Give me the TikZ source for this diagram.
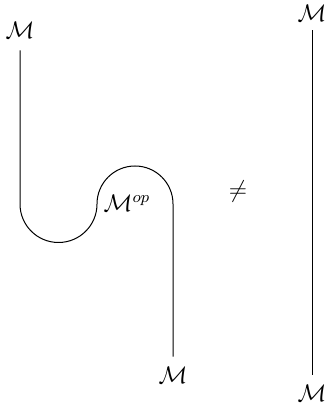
\documentclass[tikz,border=0pt]{standalone}
\begin{document}
\begin{tikzpicture}[x=0.5pt, y=0.5pt, line width=0.5pt, every node/.style={font=\large}]
    \useasboundingbox (0,0) rectangle (325,406);

    % Nhãn các đầu mút
    \node (ml) at (20,376) {$\mathcal{M}$};
    \node (mb) at (173,31) {$\mathcal{M}$};
    \node (mtr) at (312,393) {$\mathcal{M}$};
    \node (mbr) at (312,13) {$\mathcal{M}$};

    % Đường cong chữ S
    \draw[shorten <=2.5pt, shorten >=1.5pt] (ml.south) -- (20,202)
        arc[start angle=180, end angle=360, radius=38.5]
        arc[start angle=180, end angle=0, radius=38] -- (mb.north);
    \node (mop) at (127,203) {$\mathcal{M}^{op}$};

    % Dấu khác và đường thẳng
    \node (neq) at (238,214) {$\neq$};
    \draw[shorten <=1pt, shorten >=1.5pt] (mtr.south) -- (mbr.north);

\end{tikzpicture}
\end{document}
